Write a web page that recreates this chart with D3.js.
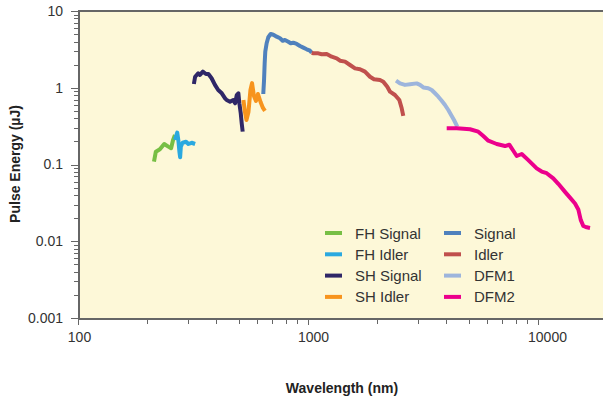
<!DOCTYPE html>
<html lang="en">
<head>
    <meta charset="UTF-8">
    <title>Pulse Energy vs Wavelength</title>
    <script src="https://d3js.org/d3.v7.min.js"></script>
    <style>
        body {
            margin: 0;
            background-color: white;
            font-family: Arial, "Liberation Sans", sans-serif;
        }

        .axis text {
            font-size: 14px;
            fill: #333;
        }

        .axis path,
        .axis line {
            stroke: #666;
            shape-rendering: crispEdges;
        }

        .axis-title {
            font-size: 14px;
            font-weight: bold;
            fill: #222;
        }

        .legend text {
            font-size: 15px;
            fill: #333;
        }

        .series {
            fill: none;
            stroke-width: 4px;
            stroke-linejoin: round;
        }
    </style>
</head>
<body>
    <div id="chart"></div>

    <script>
        // Series data, [wavelength nm, pulse energy uJ]
        const fhSignal = [[214, 0.109], [218, 0.147], [227, 0.158], [237, 0.185], [247, 0.171], [254, 0.163], [259, 0.209], [264, 0.242]];
        const fhIdler = [[264, 0.209], [270, 0.26], [273, 0.209], [276, 0.147], [278, 0.124], [280, 0.171], [285, 0.192], [295, 0.198], [302, 0.185], [312, 0.192], [323, 0.185]];
        const shSignal = [[319, 1.12], [323, 1.39], [333, 1.54], [339, 1.47], [349, 1.62], [360, 1.51], [369, 1.51], [381, 1.33], [394, 1.09], [407, 0.935], [422, 0.847], [436, 0.729], [443, 0.692], [458, 0.658], [473, 0.692], [482, 0.627], [490, 0.804], [498, 0.847], [503, 0.627], [510, 0.465], [515, 0.344], [520, 0.268]];
        const shIdler = [[524, 0.692], [532, 0.483], [540, 0.38], [551, 0.483], [562, 0.935], [571, 1.15], [582, 0.781], [594, 0.672], [606, 0.829], [622, 0.652], [637, 0.545], [650, 0.498]];
        const signal = [[639, 0.829], [644, 1.26], [648, 2.08], [652, 2.95], [661, 3.8], [672, 4.55], [688, 5.02], [707, 4.91], [731, 4.63], [756, 4.41], [776, 4.1], [794, 4.19], [821, 3.98], [841, 3.8], [863, 3.86], [893, 3.72], [923, 3.5], [954, 3.33], [987, 3.17], [1020, 3.04], [1038, 2.86]];
        const idler = [[1038, 2.86], [1055, 2.81], [1109, 2.81], [1147, 2.73], [1206, 2.75], [1268, 2.54], [1333, 2.42], [1378, 2.25], [1449, 2.19], [1523, 1.98], [1601, 1.79], [1683, 1.74], [1769, 1.62], [1860, 1.39], [1936, 1.29], [2056, 1.26], [2125, 1.2], [2212, 1.03], [2273, 0.888], [2389, 0.804], [2495, 0.692], [2555, 0.54], [2596, 0.429]];
        const dfm1 = [[2414, 1.24], [2512, 1.14], [2641, 1.09], [2777, 1.11], [2969, 1.14], [3069, 1.09], [3172, 1.01], [3334, 0.984], [3451, 0.935], [3567, 0.847], [3687, 0.765], [3814, 0.678], [3942, 0.596], [4074, 0.513], [4215, 0.429], [4313, 0.38], [4400, 0.337], [4457, 0.311]];
        const dfm2 = [[4009, 0.296], [4432, 0.296], [5063, 0.288], [5501, 0.268], [5784, 0.235], [6081, 0.204], [6614, 0.185], [7187, 0.174], [7503, 0.181], [7810, 0.151], [8081, 0.129], [8497, 0.137], [9074, 0.114], [9869, 0.089], [10378, 0.081], [10909, 0.077], [11653, 0.066], [12254, 0.056], [13105, 0.044], [13778, 0.037], [14487, 0.031], [14972, 0.026], [15338, 0.019], [15740, 0.0158], [16284, 0.0152], [16833, 0.0149]];

        const seriesNames = ["FH Signal", "FH Idler", "SH Signal", "SH Idler", "Signal", "Idler", "DFM1", "DFM2"];
        const seriesData = [fhSignal, fhIdler, shSignal, shIdler, signal, idler, dfm1, dfm2];
        const seriesColors = ["#77bf45", "#2aa9e0", "#2f2767", "#f7941d", "#4f81bd", "#c0504d", "#9db5dc", "#ec008c"];

        const xTicks = [100, 1000, 10000];
        const xTickLabels = ["100", "1000", "10000"];
        const yTicks = [0.001, 0.01, 0.1, 1, 10];
        const yTickLabels = ["0.001", "0.01", "0.1", "1", "10"];

        const width = 603;
        const height = 400;
        const margin = { top: 11, left: 78, bottom: 82 };
        const plotBottom = height - margin.bottom;

        const svg = d3.select("#chart").append("svg")
            .attr("width", width)
            .attr("height", height);

        // log scales: 230px per decade on x, ~77px per decade on y
        const x = d3.scaleLog()
            .domain([100, 20000])
            .range([margin.left, margin.left + 230 * Math.log10(200)]);

        const y = d3.scaleLog()
            .domain([0.001, 10])
            .range([plotBottom, margin.top]);

        // plot background
        svg.append("rect")
            .attr("x", margin.left)
            .attr("y", margin.top)
            .attr("width", width - margin.left)
            .attr("height", plotBottom - margin.top)
            .attr("fill", "#fdf8d8");

        svg.append("line")
            .attr("x1", margin.left).attr("x2", width)
            .attr("y1", margin.top).attr("y2", margin.top)
            .attr("stroke", "#666")
            .attr("stroke-width", 2);

        // minor ticks
        const xMinor = [];
        const yMinor = [];
        [100, 1000, 10000].forEach(d => {
            for (let k = 2; k <= 9; k++) if (d * k <= 20000) xMinor.push(d * k);
        });
        [0.001, 0.01, 0.1, 1].forEach(d => {
            for (let k = 2; k <= 9; k++) yMinor.push(d * k);
        });

        svg.append("g")
            .attr("class", "axis")
            .attr("transform", `translate(0, ${plotBottom})`)
            .call(d3.axisBottom(x).tickValues(xMinor).tickSize(6).tickFormat(""))
            .select(".domain").remove();

        svg.append("g")
            .attr("class", "axis")
            .attr("transform", `translate(${margin.left}, 0)`)
            .call(d3.axisLeft(y).tickValues(yMinor).tickSize(4).tickFormat(""))
            .select(".domain").remove();

        // X axis
        const xAxis = svg.append("g")
            .attr("class", "axis")
            .attr("transform", `translate(0, ${plotBottom})`)
            .call(d3.axisBottom(x)
                .tickValues(xTicks)
                .tickSize(7)
                .tickSizeOuter(0)
                .tickPadding(7)
                .tickFormat((d, i) => xTickLabels[i]));
        xAxis.select(".domain").attr("stroke-width", 2);
        // labels in the original sit a little right of their ticks
        xAxis.selectAll(".tick text").attr("dx", (d, i) => 1 + i * 4);

        // Y axis
        const yAxis = svg.append("g")
            .attr("class", "axis")
            .attr("transform", `translate(${margin.left}, 0)`)
            .call(d3.axisLeft(y)
                .tickValues(yTicks)
                .tickSize(7)
                .tickSizeOuter(0)
                .tickPadding(8)
                .tickFormat((d, i) => yTickLabels[i]));
        yAxis.select(".domain").attr("stroke-width", 2);

        // axis titles
        svg.append("text")
            .attr("class", "axis-title")
            .attr("x", 342)
            .attr("y", 393)
            .attr("text-anchor", "middle")
            .text("Wavelength (nm)");

        svg.append("text")
            .attr("class", "axis-title")
            .attr("transform", "translate(20, 164) rotate(-90)")
            .attr("text-anchor", "middle")
            .text("Pulse Energy (µJ)");

        // series lines
        const line = d3.line()
            .x(d => x(d[0]))
            .y(d => y(d[1]));

        svg.selectAll(".series")
            .data(seriesData)
            .enter().append("path")
            .attr("class", "series")
            .attr("stroke", (d, i) => seriesColors[i])
            .attr("d", line);

        // legend, two columns of four
        const legend = svg.append("g").attr("class", "legend");
        seriesNames.forEach((name, i) => {
            const col = Math.floor(i / 4);
            const row = i % 4;
            const lx = 325 + col * 119;
            const ly = 233 + row * 21.3;
            legend.append("rect")
                .attr("x", lx)
                .attr("y", ly - 2)
                .attr("width", 17)
                .attr("height", 4)
                .attr("fill", seriesColors[i]);
            legend.append("text")
                .attr("x", lx + 30)
                .attr("y", ly + 5.5)
                .text(name);
        });
    </script>
</body>
</html>
